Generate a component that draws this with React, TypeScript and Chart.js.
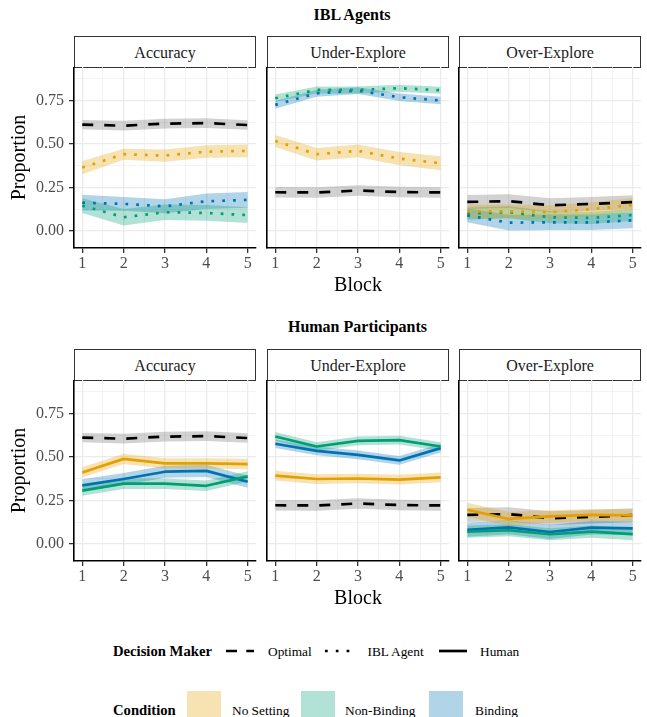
import React, { useEffect, useRef } from 'react';
import { Chart, registerables } from 'chart.js';

Chart.register(...registerables);

const FONT = "'Liberation Serif', 'Times New Roman', Times, serif";

// ---------- categories / ticks ----------
const blocks = [1, 2, 3, 4, 5];
const xGridValues = [1, 1.5, 2, 2.5, 3, 3.5, 4, 4.5, 5];
const yGridValues = [0, 0.125, 0.25, 0.375, 0.5, 0.625, 0.75, 0.875];
const metrics = ['Accuracy', 'Under-Explore', 'Over-Explore'];
const rowTitles = ['IBL Agents', 'Human Participants'];
const conditionNames = ['No Setting', 'Non-Binding', 'Binding'];
const decisionMakers = ['Optimal', 'IBL Agent', 'Human'];

// ---------- Optimal (same reference in both rows) ----------
const optimalAccuracy = [0.612, 0.606, 0.618, 0.621, 0.61];
const optimalAccuracyCI = [0.027, 0.028, 0.028, 0.028, 0.027];
const optimalUnder = [0.223, 0.222, 0.233, 0.224, 0.222];
const optimalUnderCI = [0.03, 0.03, 0.03, 0.03, 0.03];
const optimalOver = [0.167, 0.172, 0.148, 0.156, 0.166];
const optimalOverCI = [0.04, 0.04, 0.04, 0.04, 0.04];

// ---------- IBL agents ----------
const iblAccNoSetting = [0.365, 0.442, 0.434, 0.457, 0.461];
const iblAccNoSettingCI = [0.038, 0.032, 0.035, 0.036, 0.037];
const iblAccNonBinding = [0.146, 0.079, 0.108, 0.104, 0.091];
const iblAccNonBindingCI = [0.042, 0.047, 0.045, 0.045, 0.045];
const iblAccBinding = [0.163, 0.156, 0.142, 0.171, 0.179];
const iblAccBindingCI = [0.045, 0.04, 0.04, 0.045, 0.045];

const iblUnderNoSetting = [0.518, 0.442, 0.461, 0.417, 0.39];
const iblUnderNoSettingCI = [0.035, 0.036, 0.037, 0.038, 0.04];
const iblUnderNonBinding = [0.764, 0.812, 0.812, 0.822, 0.81];
const iblUnderNonBindingCI = [0.022, 0.02, 0.02, 0.02, 0.02];
const iblUnderBinding = [0.726, 0.793, 0.808, 0.77, 0.751];
const iblUnderBindingCI = [0.022, 0.02, 0.02, 0.022, 0.022];

const iblOverNoSetting = [0.113, 0.113, 0.108, 0.125, 0.15];
const iblOverNoSettingCI = [0.04, 0.04, 0.04, 0.04, 0.04];
const iblOverNonBinding = [0.1, 0.108, 0.079, 0.075, 0.092];
const iblOverNonBindingCI = [0.035, 0.035, 0.035, 0.035, 0.035];
const iblOverBinding = [0.09, 0.048, 0.05, 0.05, 0.061];
const iblOverBindingCI = [0.04, 0.045, 0.045, 0.045, 0.045];

// ---------- Human participants ----------
const humAccNoSetting = [0.412, 0.49, 0.464, 0.464, 0.46];
const humAccNoSettingCI = [0.03, 0.03, 0.03, 0.03, 0.03];
const humAccNonBinding = [0.307, 0.347, 0.347, 0.335, 0.389];
const humAccNonBindingCI = [0.03, 0.03, 0.03, 0.03, 0.03];
const humAccBinding = [0.337, 0.374, 0.416, 0.421, 0.358];
const humAccBindingCI = [0.035, 0.035, 0.035, 0.035, 0.035];

const humUnderNoSetting = [0.393, 0.374, 0.377, 0.37, 0.383];
const humUnderNoSettingCI = [0.028, 0.028, 0.028, 0.028, 0.028];
const humUnderNonBinding = [0.619, 0.561, 0.594, 0.598, 0.561];
const humUnderNonBindingCI = [0.025, 0.025, 0.025, 0.025, 0.025];
const humUnderBinding = [0.577, 0.536, 0.513, 0.481, 0.552];
const humUnderBindingCI = [0.025, 0.025, 0.025, 0.025, 0.025];

const humOverNoSetting = [0.197, 0.144, 0.159, 0.167, 0.165];
const humOverNoSettingCI = [0.04, 0.04, 0.035, 0.035, 0.035];
const humOverNonBinding = [0.071, 0.079, 0.056, 0.071, 0.057];
const humOverNonBindingCI = [0.035, 0.035, 0.035, 0.035, 0.035];
const humOverBinding = [0.082, 0.096, 0.069, 0.094, 0.09];
const humOverBindingCI = [0.04, 0.04, 0.04, 0.04, 0.04];

// ---------- styles ----------
const conditionColors = ['#E69F00', '#009E73', '#0072B2'];
const conditionFills = ['rgba(230,159,0,0.3)', 'rgba(0,158,115,0.3)', 'rgba(0,114,178,0.3)'];
const optimalColor = '#000000';
const optimalFill = 'rgba(127,127,127,0.35)';
const DASHED = [11, 11];
const DOTTED = [2.7, 8.1];

// tables built from the arrays above
const optimalTable = [
  [optimalAccuracy, optimalAccuracyCI],
  [optimalUnder, optimalUnderCI],
  [optimalOver, optimalOverCI],
];
const rowTables = [
  [
    [[iblAccNoSetting, iblAccNoSettingCI], [iblAccNonBinding, iblAccNonBindingCI], [iblAccBinding, iblAccBindingCI]],
    [[iblUnderNoSetting, iblUnderNoSettingCI], [iblUnderNonBinding, iblUnderNonBindingCI], [iblUnderBinding, iblUnderBindingCI]],
    [[iblOverNoSetting, iblOverNoSettingCI], [iblOverNonBinding, iblOverNonBindingCI], [iblOverBinding, iblOverBindingCI]],
  ],
  [
    [[humAccNoSetting, humAccNoSettingCI], [humAccNonBinding, humAccNonBindingCI], [humAccBinding, humAccBindingCI]],
    [[humUnderNoSetting, humUnderNoSettingCI], [humUnderNonBinding, humUnderNonBindingCI], [humUnderBinding, humUnderBindingCI]],
    [[humOverNoSetting, humOverNoSettingCI], [humOverNonBinding, humOverNonBindingCI], [humOverBinding, humOverBindingCI]],
  ],
];

// ---------- layout ----------
const colLeft = [74, 267, 459];
const rowTop = [67, 380];
const PLOT_W = 182;
const PLOT_H = 181;
const BOTTOM = 50;
const RIGHT = 4;
const STRIP_H = 31;

const isMajorX = (v: number) => Math.abs(v - Math.round(v)) < 1e-6;
const isMajorY = (v: number) => Math.abs(v * 4 - Math.round(v * 4)) < 1e-6;

function Panel({ row, col }: { row: number; col: number }) {
  const ref = useRef<HTMLCanvasElement | null>(null);
  const L = col === 0 ? 74 : 4;
  const width = L + PLOT_W + RIGHT;
  const height = PLOT_H + BOTTOM;

  useEffect(() => {
    if (!ref.current) return;
    const series: any[] = [];
    rowTables[row][col].forEach(([mean, ci], k) => {
      series.push({ mean, ci, color: conditionColors[k], fill: conditionFills[k], dash: row === 0 ? DOTTED : [] });
    });
    series.push({ mean: optimalTable[col][0], ci: optimalTable[col][1], color: optimalColor, fill: optimalFill, dash: DASHED });

    const datasets: any[] = [];
    series.forEach((s) => {
      datasets.push({
        data: blocks.map((b, i) => ({ x: b, y: s.mean[i] + s.ci[i] })),
        fill: '+1', backgroundColor: s.fill, borderColor: 'rgba(0,0,0,0)', borderWidth: 0, pointRadius: 0,
      });
      datasets.push({
        data: blocks.map((b, i) => ({ x: b, y: s.mean[i] - s.ci[i] })),
        fill: false, borderColor: 'rgba(0,0,0,0)', borderWidth: 0, pointRadius: 0,
      });
    });
    series.forEach((s) => {
      datasets.push({
        data: blocks.map((b, i) => ({ x: b, y: s.mean[i] })),
        fill: false, borderColor: s.color, borderWidth: 2.7, borderDash: s.dash,
        borderCapStyle: 'butt', borderJoinStyle: 'round', pointRadius: 0, tension: 0,
      });
    });

    const chart = new Chart(ref.current, {
      type: 'line',
      data: { datasets },
      options: {
        animation: false,
        responsive: false,
        maintainAspectRatio: false,
        events: [],
        layout: { padding: { left: 0, right: RIGHT, top: 0, bottom: 0 } },
        plugins: {
          legend: { display: false },
          tooltip: { enabled: false },
          title: { display: false },
          filler: { drawTime: 'beforeDatasetsDraw', propagate: false },
        },
        scales: {
          x: {
            type: 'linear',
            min: 0.8,
            max: 5.2,
            afterBuildTicks: (s: any) => { s.ticks = xGridValues.map((v) => ({ value: v })); },
            afterFit: (s: any) => { s.height = BOTTOM; s.paddingLeft = 0; s.paddingRight = 0; },
            ticks: {
              autoSkip: false, maxRotation: 0, minRotation: 0, padding: 1,
              color: '#4D4D4D', font: { family: FONT, size: 16 },
              callback: (v: any) => (isMajorX(v) ? String(Math.round(v)) : ''),
            },
            grid: {
              color: '#EBEBEB',
              lineWidth: (ctx: any) => (ctx.tick && isMajorX(ctx.tick.value) ? 1.3 : 0.6),
              tickColor: (ctx: any) => (ctx.tick && isMajorX(ctx.tick.value) ? '#333333' : 'rgba(0,0,0,0)'),
              tickLength: 5,
              tickWidth: 1.3,
              drawTicks: true,
            },
            border: { display: true, color: '#000000', width: 1.6 },
            title: {
              display: col === 1, text: 'Block', color: '#000000',
              font: { family: FONT, size: 20 }, padding: { top: 0, bottom: 0 },
            },
          },
          y: {
            type: 'linear',
            min: -0.098,
            max: 0.944,
            afterBuildTicks: (s: any) => { s.ticks = yGridValues.map((v) => ({ value: v })); },
            afterFit: (s: any) => { s.width = L; s.paddingTop = 0; s.paddingBottom = 0; },
            ticks: {
              display: col === 0, autoSkip: false, padding: 5,
              color: '#4D4D4D', font: { family: FONT, size: 16 },
              callback: (v: any) => (isMajorY(v) ? Number(v).toFixed(2) : ''),
            },
            grid: {
              color: '#EBEBEB',
              lineWidth: (ctx: any) => (ctx.tick && isMajorY(ctx.tick.value) ? 1.3 : 0.6),
              tickColor: (ctx: any) => (ctx.tick && isMajorY(ctx.tick.value) ? '#333333' : 'rgba(0,0,0,0)'),
              tickLength: col === 0 ? 5 : 0,
              tickWidth: 1.3,
              drawTicks: col === 0,
            },
            border: { display: true, color: '#000000', width: 1.6 },
            title: {
              display: col === 0, text: 'Proportion', color: '#000000',
              font: { family: FONT, size: 20 }, padding: { top: 8, bottom: 0 },
            },
          },
        },
      } as any,
    });
    return () => chart.destroy();
  }, [row, col]);

  return (
    <canvas
      ref={ref}
      width={width}
      height={height}
      style={{ position: 'absolute', left: colLeft[col] - L, top: rowTop[row], width, height }}
    />
  );
}

function Label({ text, x, baseline, size, bold = false, center = false, color = '#000' }: any) {
  return (
    <div
      style={{
        position: 'absolute', left: x, top: baseline - 0.8375 * size, fontSize: size,
        lineHeight: `${size}px`, fontWeight: bold ? 700 : 400, whiteSpace: 'nowrap', color,
        transform: center ? 'translateX(-50%)' : undefined, fontFamily: FONT,
      }}
    >
      {text}
    </div>
  );
}

function Strip({ row, col }: { row: number; col: number }) {
  return (
    <div
      style={{
        position: 'absolute', left: colLeft[col], top: rowTop[row] - STRIP_H, width: PLOT_W, height: STRIP_H + 1,
        boxSizing: 'border-box', border: '1px solid #333333', background: '#ffffff',
        display: 'flex', alignItems: 'center', justifyContent: 'center',
        fontFamily: FONT, fontSize: 16, color: '#1A1A1A', paddingTop: 2,
      }}
    >
      {metrics[col]}
    </div>
  );
}

function LineKey({ x, y, w, dash }: any) {
  return (
    <svg style={{ position: 'absolute', left: x, top: y - 5 }} width={w} height={10}>
      <line x1={0} y1={5} x2={w} y2={5} stroke="#000" strokeWidth={2.7} strokeDasharray={dash} />
    </svg>
  );
}

function BoxKey({ x, y, fill }: any) {
  return <div style={{ position: 'absolute', left: x, top: y, width: 34, height: 34, background: fill }} />;
}

export default function App() {
  return (
    <div
      style={{
        position: 'absolute', left: 0, top: 0, width: 647, height: 717, background: '#ffffff',
        overflow: 'hidden', fontFamily: FONT,
      }}
    >
      <Label text={rowTitles[0]} x={352} baseline={20} size={16} bold center />
      <Label text={rowTitles[1]} x={357.5} baseline={332} size={16} bold center />
      {[0, 1].map((r) => [0, 1, 2].map((c) => <Strip key={`s${r}${c}`} row={r} col={c} />))}
      {[0, 1].map((r) => [0, 1, 2].map((c) => <Panel key={`p${r}${c}`} row={r} col={c} />))}

      {/* Decision maker legend */}
      <Label text="Decision Maker" x={113} baseline={656} size={14.67} bold />
      <LineKey x={226} y={651} w={28} dash="11 9.3" />
      <Label text={decisionMakers[0]} x={268} baseline={656} size={13.33} />
      <LineKey x={325.4} y={651} w={26} dash="2.7 8.1" />
      <Label text={decisionMakers[1]} x={367.5} baseline={656} size={13.33} />
      <LineKey x={439} y={651} w={28} />
      <Label text={decisionMakers[2]} x={480} baseline={656} size={13.33} />

      {/* Condition legend */}
      <Label text="Condition" x={113} baseline={715} size={14.67} bold />
      <BoxKey x={187} y={691} fill={conditionFills[0]} />
      <Label text={conditionNames[0]} x={232} baseline={715} size={13.33} />
      <BoxKey x={300.5} y={691} fill={conditionFills[1]} />
      <Label text={conditionNames[1]} x={345} baseline={715} size={13.33} />
      <BoxKey x={429} y={691} fill={conditionFills[2]} />
      <Label text={conditionNames[2]} x={475} baseline={715} size={13.33} />
    </div>
  );
}
